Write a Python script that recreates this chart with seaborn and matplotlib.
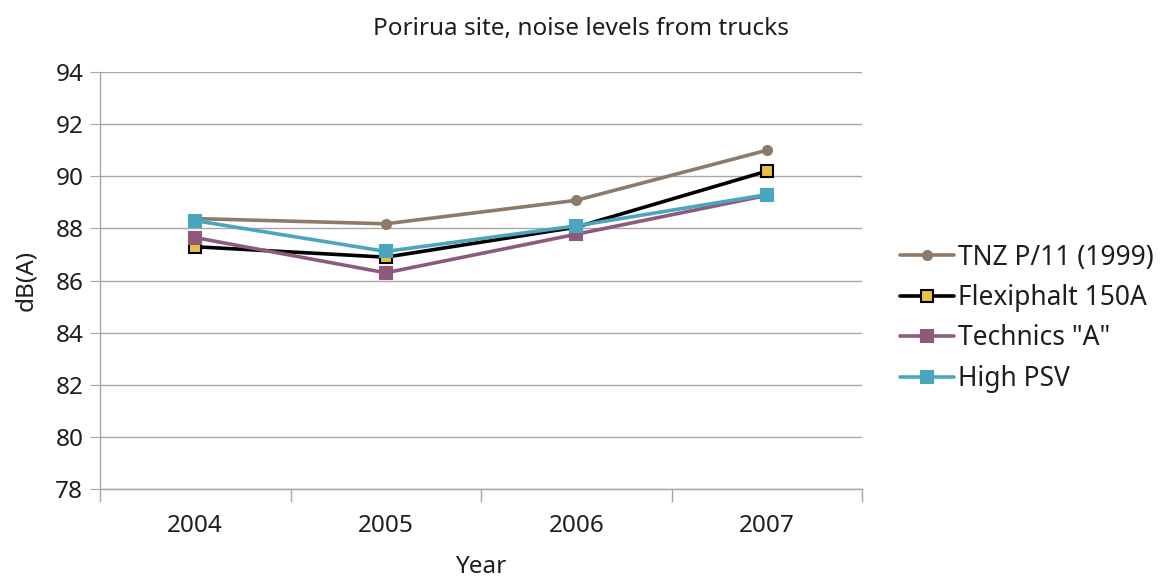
import numpy as np
import pandas as pd
import seaborn as sns
import matplotlib.pyplot as plt

years = [2004, 2005, 2006, 2007]
tnz = [88.38, 88.18, 89.08, 91.0]
flexiphalt = [87.3, 86.9, 88.05, 90.2]
technics = [87.65, 86.3, 87.78, 89.27]
high_psv = [88.3, 87.12, 88.1, 89.3]

names = ['TNZ P/11 (1999)', 'Flexiphalt 150A', 'Technics "A"', 'High PSV']
series = [tnz, flexiphalt, technics, high_psv]

# line colour, marker, marker face, marker edge, marker size
styles = {
    'TNZ P/11 (1999)': ('#8c7b6b', 'o', '#8c7b6b', '#8c7b6b', 6.5),
    'Flexiphalt 150A': ('#000000', 's', '#e6c04a', '#000000', 8.5),
    'Technics "A"': ('#8e5a7c', 's', '#8e5a7c', '#8e5a7c', 8.5),
    'High PSV': ('#4aa6be', 's', '#4aa6be', '#4aa6be', 8.5),
}

df = pd.concat([pd.DataFrame({'Year': years, 'dB': s, 'Surface': n})
                for n, s in zip(names, series)], ignore_index=True)

sns.set_style("white")
plt.rcParams['font.family'] = ['Noto Sans', 'DejaVu Sans']
plt.rcParams['text.color'] = '#1e1e1e'
plt.rcParams['axes.labelcolor'] = '#1e1e1e'
plt.rcParams['xtick.color'] = '#1e1e1e'
plt.rcParams['ytick.color'] = '#1e1e1e'

fig = plt.figure(figsize=(11.62, 5.81), dpi=100)
ax = fig.add_axes([0.086, 0.158, 0.656, 0.718])

for n in names:
    c, m, fc, ec, ms = styles[n]
    sns.lineplot(data=df[df['Surface'] == n], x='Year', y='dB', ax=ax,
                 color=c, marker=m, markersize=ms, markerfacecolor=fc,
                 markeredgecolor=ec, markeredgewidth=1.5, linewidth=2.6,
                 label=n)

ax.set_xlim(2003.5, 2007.5)
ax.set_ylim(78, 94)
ax.set_yticks(np.arange(78, 95, 2))
ax.set_xticks(years)
ax.set_xticks([2003.5, 2004.5, 2005.5, 2006.5, 2007.5], minor=True)
ax.grid(axis='y', color='#a6a6a6', linewidth=1)
ax.set_axisbelow(True)
for sp in ['top', 'right']:
    ax.spines[sp].set_visible(False)
for sp in ['left', 'bottom']:
    ax.spines[sp].set_color('#a6a6a6')
    ax.spines[sp].set_linewidth(1)
ax.tick_params(axis='y', which='major', left=True, length=7, color='#a6a6a6',
               labelsize=17.5, pad=5)
ax.tick_params(axis='x', which='major', bottom=False, length=0, labelsize=17.5, pad=18)
ax.tick_params(axis='x', which='minor', bottom=True, length=9, width=1,
               color='#a6a6a6', direction='out')
ax.set_xticklabels([str(y) for y in years])

ax.set_xlabel('Year', fontsize=17.5, labelpad=12)
ax.set_ylabel('dB(A)', fontsize=17.5, labelpad=12)
fig.suptitle('Porirua site, noise levels from trucks', fontsize=17.5, y=0.97)

ax.legend(loc='center left', bbox_to_anchor=(1.05, 0.41), frameon=False,
          borderpad=0, borderaxespad=0,
          fontsize=19, handlelength=2.05, handletextpad=0.15, labelspacing=0.47)

fig.savefig('out.png', dpi=100)
